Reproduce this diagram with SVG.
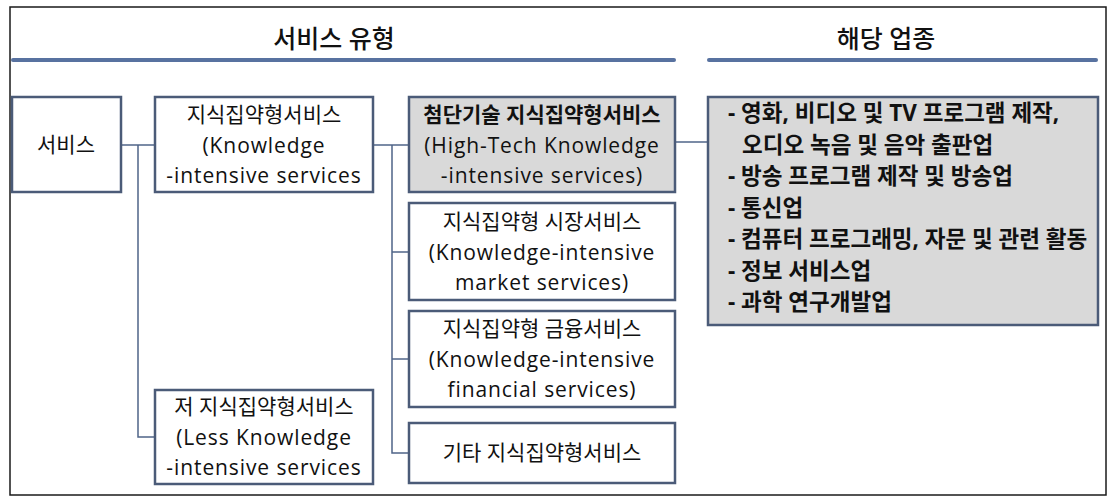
<svg xmlns="http://www.w3.org/2000/svg" width="1109" height="501" viewBox="0 0 1109 501">
  <defs>
    <style>
      .frame { fill: #ffffff; stroke: #1a1a1a; stroke-width: 1.5; }
      .rule { stroke: #5872a0; stroke-width: 4; stroke-linecap: round; }
      .box { fill: #ffffff; stroke: #4b5b78; stroke-width: 2.5; }
      .box.shade { fill: #d9d9d9; }
      .wire { fill: none; stroke: #4f6488; stroke-width: 1.5; }
      text { font-family: "Open Sans", "Noto Sans CJK KR", sans-serif; fill: #111111; }
      .head { font-size: 25px; text-anchor: middle; font-weight: 500; }
      .lbl { font-size: 21px; text-anchor: middle; }
      .en { letter-spacing: 0.9px; }
      .strong { font-weight: bold; }
      .list { font-size: 22.5px; font-weight: bold; }
    </style>
  </defs>

  <!-- outer frame -->
  <rect class="frame" x="10" y="7" width="1096" height="488"/>

  <!-- column headings -->
  <g id="heading-types">
    <text class="head" x="334" y="48">서비스 유형</text>
    <line class="rule" x1="13" y1="60" x2="674" y2="60"/>
  </g>
  <g id="heading-industries">
    <text class="head" x="886" y="48">해당 업종</text>
    <line class="rule" x1="709" y1="60" x2="1096" y2="60"/>
  </g>

  <!-- connectors -->
  <g id="connectors">
    <path class="wire" d="M121,145 H155"/>
    <path class="wire" d="M138,145 V437 H155"/>
    <path class="wire" d="M373,145 H409"/>
    <path class="wire" d="M392,145 V453 H409"/>
    <path class="wire" d="M392,252 H409"/>
    <path class="wire" d="M392,359 H409"/>
    <path class="wire" d="M675,142 H708"/>
  </g>

  <g id="service">
    <rect class="box" x="12" y="97" width="109" height="95"/>
    <text class="lbl" x="66" y="152">서비스</text>
  </g>

  <g id="kis">
    <rect class="box" x="155" y="97" width="218" height="95"/>
    <text class="lbl" x="264" y="122">지식집약형서비스</text>
    <text class="lbl en" x="264" y="153">(Knowledge</text>
    <text class="lbl en" x="264" y="183">-intensive services</text>
  </g>

  <g id="less-kis">
    <rect class="box" x="155" y="390" width="218" height="94"/>
    <text class="lbl" x="264" y="414">저 지식집약형서비스</text>
    <text class="lbl en" x="264" y="445">(Less Knowledge</text>
    <text class="lbl en" x="264" y="475">-intensive services</text>
  </g>

  <g id="high-tech">
    <rect class="box shade" x="409" y="97" width="266" height="95"/>
    <text class="lbl strong" x="542" y="122">첨단기술 지식집약형서비스</text>
    <text class="lbl en" x="542" y="153">(High-Tech Knowledge</text>
    <text class="lbl en" x="542" y="183">-intensive services)</text>
  </g>

  <g id="market">
    <rect class="box" x="409" y="203" width="266" height="97"/>
    <text class="lbl" x="542" y="229">지식집약형 시장서비스</text>
    <text class="lbl en" x="542" y="260">(Knowledge-intensive</text>
    <text class="lbl en" x="542" y="290">market services)</text>
  </g>

  <g id="financial">
    <rect class="box" x="409" y="311" width="266" height="96"/>
    <text class="lbl" x="542" y="336">지식집약형 금융서비스</text>
    <text class="lbl en" x="542" y="367">(Knowledge-intensive</text>
    <text class="lbl en" x="542" y="397">financial services)</text>
  </g>

  <g id="other">
    <rect class="box" x="409" y="423" width="266" height="60"/>
    <text class="lbl" x="542" y="460">기타 지식집약형서비스</text>
  </g>

  <g id="industries">
    <rect class="box shade" x="708" y="97" width="390" height="228"/>
    <text class="list" x="728" y="121">- 영화, 비디오 및 TV 프로그램 제작,</text>
    <text class="list" x="742" y="152.5">오디오 녹음 및 음악 출판업</text>
    <text class="list" x="728" y="184">- 방송 프로그램 제작 및 방송업</text>
    <text class="list" x="728" y="215.5">- 통신업</text>
    <text class="list" x="728" y="247">- 컴퓨터 프로그래밍, 자문 및 관련 활동</text>
    <text class="list" x="728" y="278.5">- 정보 서비스업</text>
    <text class="list" x="728" y="310">- 과학 연구개발업</text>
  </g>
</svg>
